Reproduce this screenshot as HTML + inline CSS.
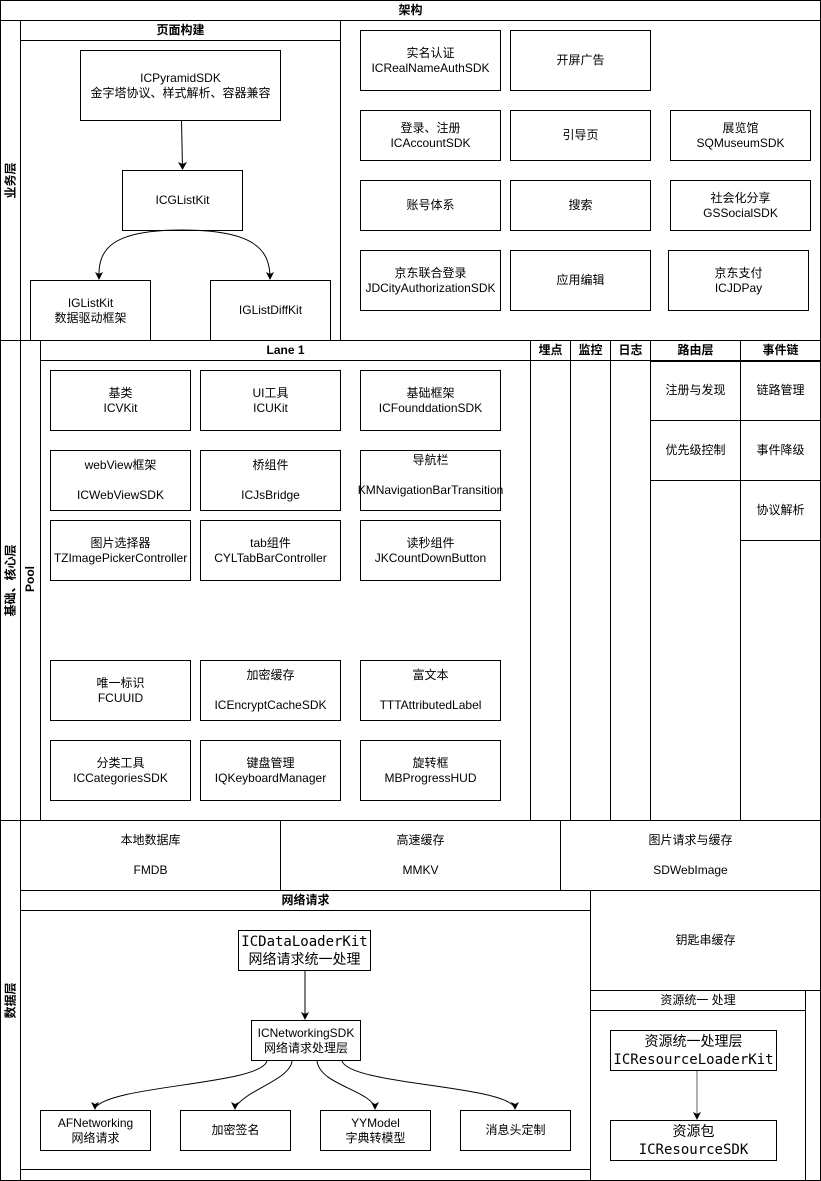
<!DOCTYPE html>
<html><head><meta charset="utf-8"><style>
*{margin:0;padding:0;box-sizing:border-box}
body{width:821px;height:1181px;background:#fff;position:relative;overflow:hidden;font-family:"Liberation Sans","Noto Sans CJK SC",sans-serif;font-size:12px;color:#000}
.b{position:absolute;border:1px solid #000;background:#fff;display:flex;align-items:center;justify-content:center;text-align:center;line-height:15px;white-space:nowrap}
.n{position:absolute;border:1px solid #000}
.t{position:absolute;display:flex;align-items:center;justify-content:center;text-align:center;line-height:15px;white-space:nowrap}
.h{font-weight:bold}
.m{font-family:"DejaVu Sans Mono","Liberation Mono","Noto Sans CJK SC",monospace;font-size:14px;line-height:18px}
.v{position:absolute;transform:rotate(-90deg);font-weight:bold;white-space:nowrap;text-align:center}
svg{position:absolute;left:0;top:0}
</style></head><body>
<!-- frames -->
<div class="n" style="left:0;top:0;width:821px;height:1181px"></div>
<div class="t h" style="left:0;top:0;width:821px;height:21px;border-bottom:1px solid #000">架构</div>
<!-- band 1 -->
<div class="n" style="left:0;top:20px;width:21px;height:321px"></div>
<div class="v" style="left:-30px;top:172px;width:80px">业务层</div>
<div class="n" style="left:20px;top:20px;width:321px;height:321px"></div>
<div class="t h" style="left:20px;top:20px;width:321px;height:21px;border-bottom:1px solid #000">页面构建</div>
<div class="b" style="left:80px;top:50px;width:201px;height:71px">ICPyramidSDK<br>金字塔协议、样式解析、容器兼容</div>
<div class="b" style="left:122px;top:170px;width:121px;height:61px">ICGListKit</div>
<div class="b" style="left:30px;top:280px;width:121px;height:61px">IGListKit<br>数据驱动框架</div>
<div class="b" style="left:210px;top:280px;width:121px;height:61px">IGListDiffKit</div>
<div class="b" style="left:360px;top:30px;width:141px;height:61px">实名认证<br>ICRealNameAuthSDK</div>
<div class="b" style="left:510px;top:30px;width:141px;height:61px">开屏广告</div>
<div class="b" style="left:360px;top:110px;width:141px;height:51px">登录、注册<br>ICAccountSDK</div>
<div class="b" style="left:510px;top:110px;width:141px;height:51px">引导页</div>
<div class="b" style="left:670px;top:110px;width:141px;height:51px">展览馆<br>SQMuseumSDK</div>
<div class="b" style="left:360px;top:180px;width:141px;height:51px">账号体系</div>
<div class="b" style="left:510px;top:180px;width:141px;height:51px">搜索</div>
<div class="b" style="left:670px;top:180px;width:141px;height:51px">社会化分享<br>GSSocialSDK</div>
<div class="b" style="left:360px;top:250px;width:141px;height:61px">京东联合登录<br>JDCityAuthorizationSDK</div>
<div class="b" style="left:510px;top:250px;width:141px;height:61px">应用编辑</div>
<div class="b" style="left:668px;top:250px;width:141px;height:61px">京东支付<br>ICJDPay</div>
<!-- band 2 -->
<div class="n" style="left:0;top:340px;width:21px;height:481px"></div>
<div class="v" style="left:-40px;top:572px;width:100px">基础、核心层</div>
<div class="n" style="left:20px;top:340px;width:21px;height:481px"></div>
<div class="v" style="left:0px;top:572px;width:60px">Pool</div>
<div class="n" style="left:40px;top:340px;width:491px;height:481px"></div>
<div class="t h" style="left:40px;top:340px;width:491px;height:21px;border-bottom:1px solid #000">Lane 1</div>
<div class="n" style="left:530px;top:340px;width:41px;height:481px"></div>
<div class="t h" style="left:530px;top:340px;width:41px;height:21px;border-bottom:1px solid #000">埋点</div>
<div class="n" style="left:570px;top:340px;width:41px;height:481px"></div>
<div class="t h" style="left:570px;top:340px;width:41px;height:21px;border-bottom:1px solid #000">监控</div>
<div class="n" style="left:610px;top:340px;width:41px;height:481px"></div>
<div class="t h" style="left:610px;top:340px;width:41px;height:21px;border-bottom:1px solid #000">日志</div>
<div class="n" style="left:650px;top:340px;width:91px;height:481px"></div>
<div class="t h" style="left:650px;top:340px;width:91px;height:22px;border-bottom:2px solid #000">路由层</div>
<div class="n" style="left:740px;top:340px;width:81px;height:481px"></div>
<div class="t h" style="left:740px;top:340px;width:81px;height:22px;border-bottom:2px solid #000">事件链</div>
<div class="t" style="left:650px;top:361px;width:91px;height:60px;border-bottom:1px solid #000">注册与发现</div>
<div class="t" style="left:650px;top:420px;width:91px;height:61px;border-bottom:1px solid #000">优先级控制</div>
<div class="t" style="left:740px;top:361px;width:81px;height:60px;border-bottom:1px solid #000">链路管理</div>
<div class="t" style="left:740px;top:420px;width:81px;height:61px;border-bottom:1px solid #000">事件降级</div>
<div class="t" style="left:740px;top:480px;width:81px;height:61px;border-bottom:1px solid #000">协议解析</div>
<div class="b" style="left:50px;top:370px;width:141px;height:61px">基类<br>ICVKit</div>
<div class="b" style="left:200px;top:370px;width:141px;height:61px">UI工具<br>ICUKit</div>
<div class="b" style="left:360px;top:370px;width:141px;height:61px">基础框架<br>ICFounddationSDK</div>
<div class="b" style="left:50px;top:450px;width:141px;height:61px">webView框架<br><br>ICWebViewSDK</div>
<div class="b" style="left:200px;top:450px;width:141px;height:61px">桥组件<br><br>ICJsBridge</div>
<div class="b" style="left:360px;top:450px;width:141px;height:61px;align-items:flex-start;padding-top:2px;overflow:visible">导航栏<br><br>KMNavigationBarTransition</div>
<div class="b" style="left:50px;top:520px;width:141px;height:61px">图片选择器<br>TZImagePickerController</div>
<div class="b" style="left:200px;top:520px;width:141px;height:61px">tab组件<br>CYLTabBarController</div>
<div class="b" style="left:360px;top:520px;width:141px;height:61px">读秒组件<br>JKCountDownButton</div>
<div class="b" style="left:50px;top:660px;width:141px;height:61px">唯一标识<br>FCUUID</div>
<div class="b" style="left:200px;top:660px;width:141px;height:61px">加密缓存<br><br>ICEncryptCacheSDK</div>
<div class="b" style="left:360px;top:660px;width:141px;height:61px">富文本<br><br>TTTAttributedLabel</div>
<div class="b" style="left:50px;top:740px;width:141px;height:61px">分类工具<br>ICCategoriesSDK</div>
<div class="b" style="left:200px;top:740px;width:141px;height:61px">键盘管理<br>IQKeyboardManager</div>
<div class="b" style="left:360px;top:740px;width:141px;height:61px">旋转框<br>MBProgressHUD</div>
<!-- band 3 -->
<div class="n" style="left:0;top:820px;width:21px;height:361px"></div>
<div class="v" style="left:-30px;top:992px;width:80px">数据层</div>
<div class="b" style="left:20px;top:820px;width:261px;height:71px">本地数据库<br><br>FMDB</div>
<div class="b" style="left:280px;top:820px;width:281px;height:71px">高速缓存<br><br>MMKV</div>
<div class="b" style="left:560px;top:820px;width:261px;height:71px">图片请求与缓存<br><br>SDWebImage</div>
<div class="n" style="left:20px;top:890px;width:571px;height:291px"></div>
<div class="t h" style="left:20px;top:890px;width:571px;height:21px;border-bottom:1px solid #000">网络请求</div>
<div class="n" style="left:20px;top:1169px;width:571px;height:1px;border-width:1px 0 0 0"></div>
<div class="b m" style="left:238px;top:930px;width:133px;height:41px">ICDataLoaderKit<br>网络请求统一处理</div>
<div class="b" style="left:251px;top:1020px;width:110px;height:41px">ICNetworkingSDK<br>网络请求处理层</div>
<div class="b" style="left:40px;top:1110px;width:111px;height:41px">AFNetworking<br>网络请求</div>
<div class="b" style="left:180px;top:1110px;width:111px;height:41px">加密签名</div>
<div class="b" style="left:320px;top:1110px;width:111px;height:41px">YYModel<br>字典转模型</div>
<div class="b" style="left:460px;top:1110px;width:111px;height:41px">消息头定制</div>
<div class="b" style="left:590px;top:890px;width:231px;height:101px">钥匙串缓存</div>
<div class="n" style="left:590px;top:990px;width:216px;height:191px"></div>
<div class="t" style="left:590px;top:990px;width:216px;height:21px;border-bottom:1px solid #000">资源统一 处理</div>
<div class="b m" style="left:610px;top:1030px;width:167px;height:41px">资源统一处理层<br>ICResourceLoaderKit</div>
<div class="b m" style="left:610px;top:1120px;width:167px;height:41px">资源包<br>ICResourceSDK</div>
<svg width="821" height="1181" viewBox="0 0 821 1181">
<defs><marker id="a" markerWidth="8" markerHeight="8" refX="4" refY="7" orient="auto-start-reverse" markerUnits="userSpaceOnUse"><path d="M0,0 L4,7 L8,0 L4,2 Z" fill="#000" transform="rotate(0)"/></marker></defs>
<g fill="none" stroke="#000" stroke-width="1">
<path d="M181.5,121 L182.5,168" />
<path d="M182,230 C110,230 98,250 99,278" />
<path d="M182,230 C255,230 270,250 270,278" />
<path d="M305,971 L305,1018" />
<path d="M267,1061 C260,1085 110,1085 95,1108" />
<path d="M292,1061 C290,1080 245,1090 235,1108" />
<path d="M317,1061 C320,1085 370,1090 375,1108" />
<path d="M342,1061 C350,1085 505,1085 515,1108" />
<path d="M697,1071 L697,1118" stroke="#666"/>
</g>
<g fill="#000">
<path d="M178,162 L182.5,170 L187,162 L182.5,164 Z"/>
<path d="M95,272 L99,280 L103,272 L99,274 Z"/>
<path d="M266,272 L270,280 L274,272 L270,274 Z"/>
<path d="M301,1012 L305,1020 L309,1012 L305,1014 Z"/>
<path d="M91,1102 L95,1110 L99,1102 L95,1104 Z"/>
<path d="M231,1102 L235,1110 L239,1102 L235,1104 Z"/>
<path d="M371,1102 L375,1110 L379,1102 L375,1104 Z"/>
<path d="M511,1102 L515,1110 L519,1102 L515,1104 Z"/>
<path d="M693,1112 L697,1120 L701,1112 L697,1114 Z"/>
</g>
</svg>
</body></html>
